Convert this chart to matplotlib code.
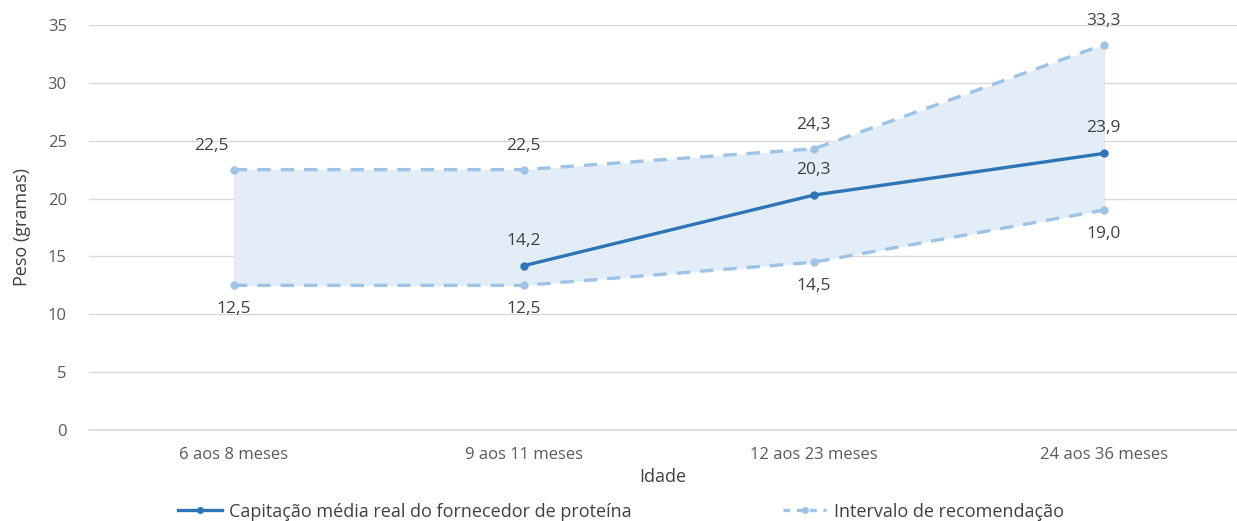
import matplotlib.pyplot as plt
from matplotlib.lines import Line2D

plt.rcParams['font.family'] = ['Open Sans', 'DejaVu Sans']

# data
idades = ['6 aos 8 meses', '9 aos 11 meses', '12 aos 23 meses', '24 aos 36 meses']
capitacao = [None, 14.2, 20.3, 23.9]
rec_min = [12.5, 12.5, 14.5, 19.0]
rec_max = [22.5, 22.5, 24.3, 33.3]

cor_real = '#2e75b6'
cor_rec = '#9dc3e6'
cor_faixa = '#e2edf8'
cor_texto = '#404040'


def fmt(v):
    return f'{v:.1f}'.replace('.', ',')


fig = plt.figure(figsize=(12.37, 5.21), dpi=100)
ax = fig.add_axes([89 / 1237, 1 - 430 / 521, 1 - 89 / 1237, (430 - 25) / 521])

x = list(range(len(idades)))

# recommended range band
ax.fill_between(x, rec_min, rec_max, color=cor_faixa, lw=0, zorder=1)
for i in (x[0], x[-1]):
    ax.plot([i, i], [rec_min[i], rec_max[i]], color='#f0dede', lw=0.6, zorder=1.5)

ax.plot(x, rec_max, color=cor_rec, lw=2.4, ls=(0, (4, 3)), marker='o', ms=5, zorder=2)
ax.plot(x, rec_min, color=cor_rec, lw=2.4, ls=(0, (4, 3)), marker='o', ms=5, zorder=2)

xr = [i for i, v in zip(x, capitacao) if v is not None]
yr = [v for v in capitacao if v is not None]
ax.plot(xr, yr, color=cor_real, lw=2.4, marker='o', ms=5, zorder=3)

# data labels
for i in x:
    dx = -16 if i == 0 else 0
    ax.annotate(fmt(rec_max[i]), (i, rec_max[i]), xytext=(dx, 17), textcoords='offset points',
                ha='center', va='center', fontsize=12.5, color=cor_texto)
    ax.annotate(fmt(rec_min[i]), (i, rec_min[i]), xytext=(0, -17), textcoords='offset points',
                ha='center', va='center', fontsize=12.5, color=cor_texto)
for i, v in zip(xr, yr):
    ax.annotate(fmt(v), (i, v), xytext=(0, 18), textcoords='offset points',
                ha='center', va='center', fontsize=12.5, color=cor_texto)

ax.set_xlim(-0.5, 3.46)
ax.set_ylim(0, 35)
ax.set_yticks(range(0, 36, 5))
ax.set_xticks(x)
ax.set_xticklabels(idades)
ax.tick_params(length=0, labelsize=12, colors='#595959', pad=12)
ax.tick_params(axis='y', pad=16)
ax.grid(axis='y', color='#d9d9d9', lw=1)
ax.axhline(0, color='#d9d9d9', lw=1.2, clip_on=False, zorder=0.5)
ax.set_axisbelow(True)
for s in ax.spines.values():
    s.set_visible(False)

ax.set_xlabel('Idade', fontsize=13, color=cor_texto, labelpad=4)
ax.set_ylabel('Peso (gramas)', fontsize=13, color=cor_texto, labelpad=12)

handles = [
    Line2D([], [], color=cor_real, lw=2.4, marker='o', ms=4),
    Line2D([], [], color=cor_rec, lw=2.4, ls=(0, (2, 2)), marker='o', ms=4),
]
fig.legend(handles, ['Capitação média real do fornecedor de proteína', 'Intervalo de recomendação'],
           loc='center', bbox_to_anchor=(0.502, 0.018), ncol=2, frameon=False, fontsize=13,
           handlelength=2.4, handletextpad=0.4, columnspacing=8.4, labelcolor=cor_texto)

fig.savefig('out.png', dpi=100)
